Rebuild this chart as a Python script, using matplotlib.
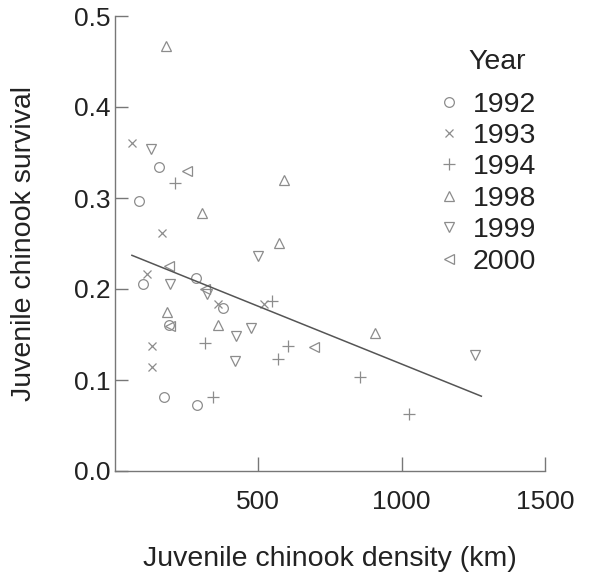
import matplotlib.pyplot as plt
import numpy as np

plt.rcParams['font.family'] = ['Liberation Sans', 'DejaVu Sans']

years = ['1992', '1993', '1994', '1998', '1999', '2000']
markers = ['o', 'x', '+', '^', 'v', '<']

# density (per km) and survival
x_1992 = [85, 153, 96, 282, 376, 190, 172, 285]
y_1992 = [0.297, 0.334, 0.205, 0.212, 0.179, 0.160, 0.081, 0.073]
x_1993 = [60, 164, 113, 358, 520, 128, 128]
y_1993 = [0.360, 0.262, 0.216, 0.183, 0.184, 0.137, 0.114]
x_1994 = [211, 549, 314, 602, 569, 341, 855, 1025]
y_1994 = [0.317, 0.187, 0.141, 0.137, 0.123, 0.081, 0.103, 0.063]
x_1998 = [178, 303, 590, 573, 183, 360, 906]
y_1998 = [0.467, 0.284, 0.320, 0.251, 0.175, 0.160, 0.152]
x_1999 = [124, 500, 192, 322, 422, 473, 420, 1257]
y_1999 = [0.354, 0.236, 0.205, 0.195, 0.148, 0.157, 0.121, 0.128]
x_2000 = [250, 188, 314, 193, 694]
y_2000 = [0.330, 0.225, 0.200, 0.159, 0.136]

xs = [x_1992, x_1993, x_1994, x_1998, x_1999, x_2000]
ys = [y_1992, y_1993, y_1994, y_1998, y_1999, y_2000]

# fitted line
fit_intercept = 0.2445
fit_slope = -0.000127
fit_range = [59, 1278]

fig = plt.figure(figsize=(6.1, 5.78), dpi=100)
ax = fig.add_axes([115/610, 1 - 471/578, 430/610, 455/578])

grey = '#8c8c8c'
sizes = {'o': 7, 'x': 6, '+': 8, '^': 7, 'v': 7, '<': 7}
for yr, m, xv, yv in zip(years, markers, xs, ys):
    ax.plot(xv, yv, linestyle='none', marker=m, ms=sizes[m], mfc='none',
            mec=grey, mew=0.9, label=yr)

fx = np.array(fit_range)
ax.plot(fx, fit_intercept + fit_slope * fx, color='#555555', lw=1.1)

ax.set_xlim(0, 1500)
ax.set_ylim(0, 0.5)
ax.set_xticks([500, 1000, 1500])
ax.set_yticks([0.0, 0.1, 0.2, 0.3, 0.4, 0.5])
ax.set_yticklabels(['0.0', '0.1', '0.2', '0.3', '0.4', '0.5'])

for s in ['top', 'right']:
    ax.spines[s].set_visible(False)
for s in ['left', 'bottom']:
    ax.spines[s].set_color('#777777')
    ax.spines[s].set_linewidth(1.0)

ax.tick_params(axis='x', direction='in', length=10, width=1.0, color='#777777',
               pad=14, labelsize=19, labelcolor='#222222')
ax.tick_params(axis='y', direction='in', length=9, width=1.0, color='#777777',
               pad=3, labelsize=19, labelcolor='#222222')

ax.set_xlabel('Juvenile chinook density (km)', fontsize=20.5, color='#222222', labelpad=23)
ax.set_ylabel('Juvenile chinook survival', fontsize=20.5, color='#222222', labelpad=27)

ax.text(0.888, 0.899, 'Year', transform=ax.transAxes, ha='center', va='center',
        fontsize=20.5, color='#222222')
leg = ax.legend(loc='upper left', bbox_to_anchor=(0.75, 0.834),
                frameon=False, fontsize=20.5, handlelength=0.8,
                handletextpad=0.45, labelspacing=0.19, borderaxespad=0, borderpad=0)
for t in leg.get_texts():
    t.set_color('#222222')

fig.savefig('out.png', dpi=100)
